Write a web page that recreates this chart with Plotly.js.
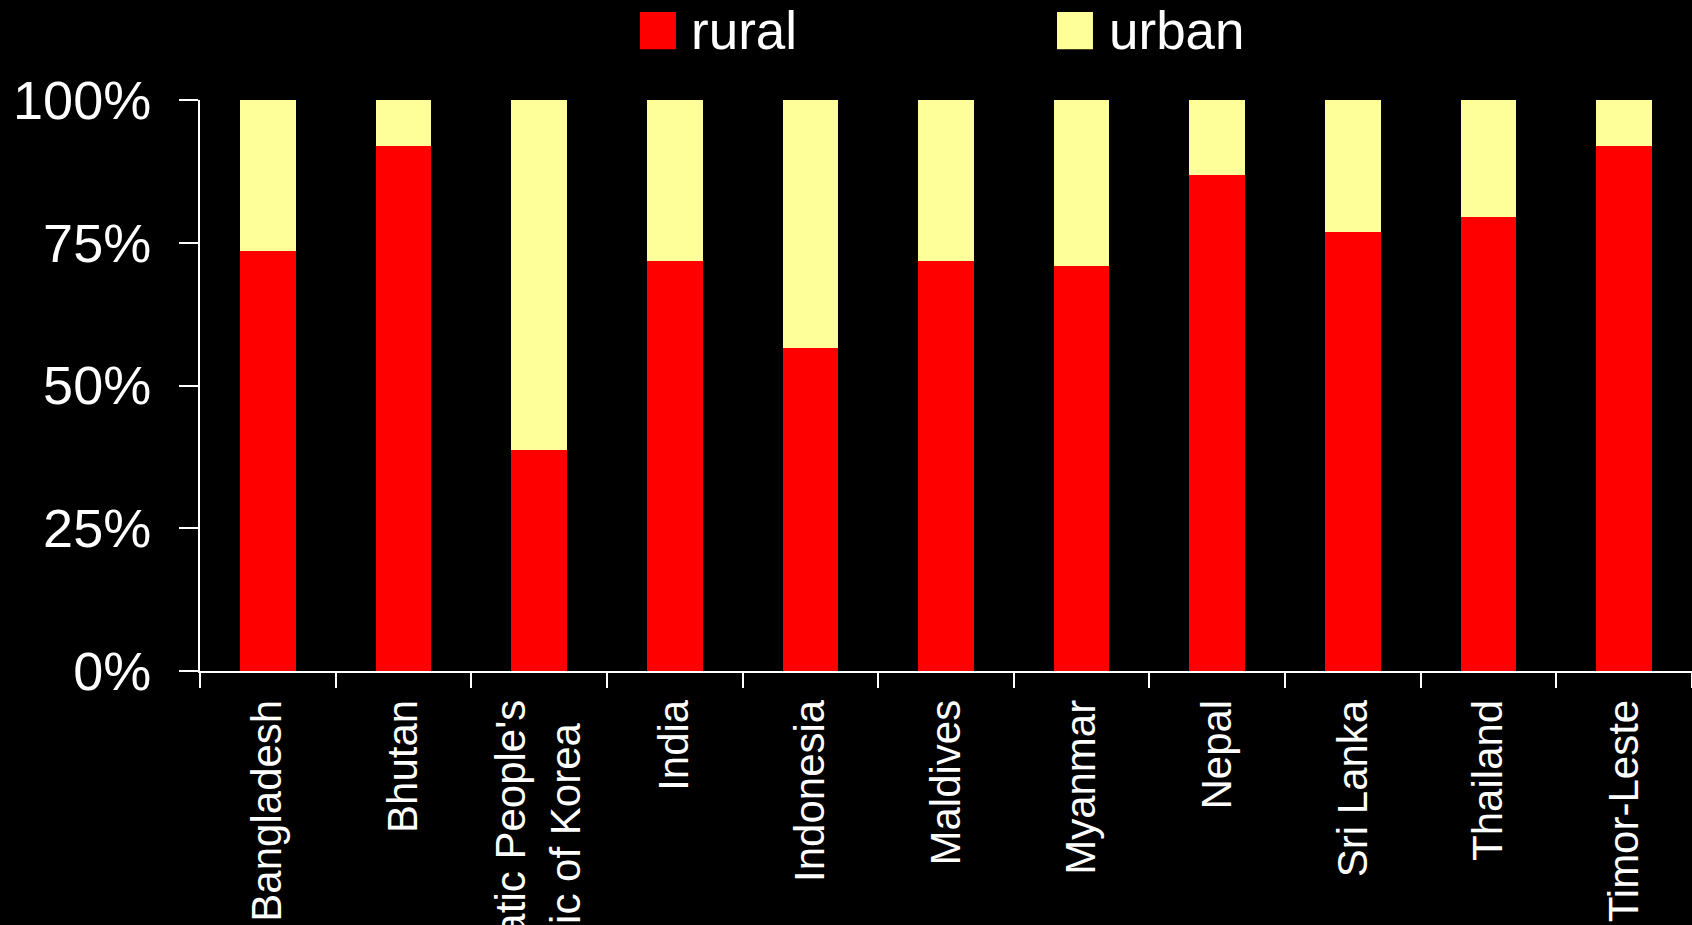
<!DOCTYPE html>
<html>
<head>
<meta charset="utf-8">
<script src="https://cdn.plot.ly/plotly-3.0.1.min.js"></script>
<style>html,body{margin:0;padding:0;background:#000;}#chart{width:1692px;height:925px;}</style>
</head>
<body>
<div id="chart"></div>
<script>
const categories = ["Bangladesh", "Bhutan", "Democratic People's<br>Republic of Korea", "India", "Indonesia", "Maldives", "Myanmar", "Nepal", "Sri Lanka", "Thailand", "Timor-Leste"];
const rural = [73.6, 91.9, 38.7, 71.8, 56.6, 71.8, 70.9, 86.9, 76.9, 79.5, 91.9];
const urban = [26.4, 8.1, 61.3, 28.2, 43.4, 28.2, 29.1, 13.1, 23.1, 20.5, 8.1];
const seriesNames = ["rural", "urban"];
const seriesColors = ["#FF0000", "#FFFF99"];
const yTickVals = [0, 25, 50, 75, 100];
const yTickText = ["0%", "25%", "50%", "75%", "100%"];

const font = "Liberation Sans, Arial, sans-serif";

// centre-align the lines of multi-line tick labels (pad shorter lines with no-break spaces)
const xTickText = categories.map(c => {
  const lines = c.split('<br>');
  if (lines.length < 2) return c;
  const maxLen = Math.max(...lines.map(l => l.length));
  return lines.map(l => l + '\u00A0'.repeat(Math.max(0, Math.round((maxLen - l.length) * 0.85)))).join('<br>');
});

const traces = [
  {type: 'bar', x: categories, y: rural, name: seriesNames[0], marker: {color: seriesColors[0]}, showlegend: false, hoverinfo: 'x+y'},
  {type: 'bar', x: categories, y: urban, name: seriesNames[1], marker: {color: seriesColors[1]}, showlegend: false, hoverinfo: 'x+y'}
];

// legend drawn manually (large squares)
const legendItems = [
  {sq0: 0.2949, sq1: 0.3190, tx: 0.3277},
  {sq0: 0.5744, sq1: 0.5985, tx: 0.6079}
];
const shapes = legendItems.map((it, i) => ({
  type: 'rect', xref: 'paper', yref: 'paper',
  x0: it.sq0, x1: it.sq1, y0: 1.089, y1: 1.154,
  fillcolor: seriesColors[i], line: {width: 0}
}));
const annotations = legendItems.map((it, i) => ({
  xref: 'paper', yref: 'paper', x: it.tx, y: 1.1217,
  xanchor: 'left', yanchor: 'middle', showarrow: false,
  text: seriesNames[i], font: {family: font, size: 53, color: '#FFFFFF'}
}));

const layout = {
  width: 1692, height: 925,
  paper_bgcolor: '#000000', plot_bgcolor: '#000000',
  margin: {l: 200, r: 0, t: 100, b: 254, pad: 0},
  barmode: 'stack', bargap: 0.59,
  showlegend: false,
  font: {family: font, color: '#FFFFFF'},
  xaxis: {
    type: 'category', automargin: false,
    tickmode: 'array', tickvals: categories, ticktext: xTickText,
    showline: true, linecolor: '#FFFFFF', linewidth: 2,
    ticks: 'outside', tickson: 'boundaries', ticklen: 15, tickwidth: 2, tickcolor: '#FFFFFF',
    tickangle: -90, tickfont: {family: font, size: 42, color: '#FFFFFF'},
    ticklabelstandoff: 10,
    showgrid: false, zeroline: false
  },
  yaxis: {
    range: [0, 100], automargin: false,
    tickvals: yTickVals, ticktext: yTickText,
    showline: true, linecolor: '#FFFFFF', linewidth: 2,
    ticks: 'outside', ticklen: 19, tickwidth: 2, tickcolor: '#FFFFFF',
    tickfont: {family: font, size: 54, color: '#FFFFFF'},
    ticklabelstandoff: 17,
    showgrid: false, zeroline: false
  },
  shapes: shapes,
  annotations: annotations
};

Plotly.newPlot('chart', traces, layout, {displayModeBar: false, staticPlot: true});
</script>
</body>
</html>
